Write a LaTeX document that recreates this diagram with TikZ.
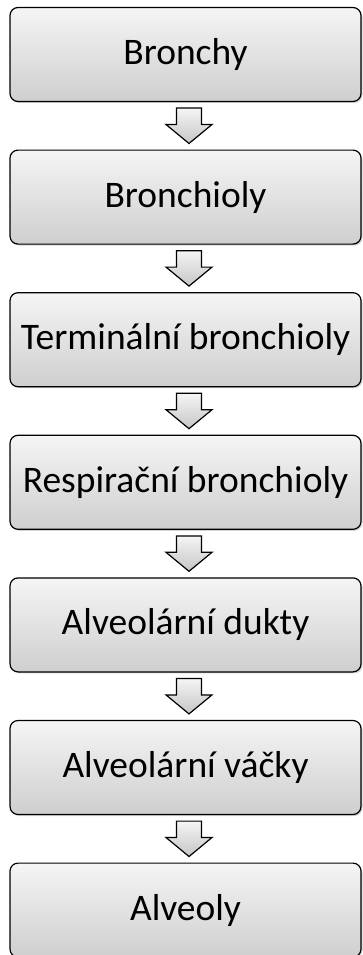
\documentclass[tikz,border=0pt]{standalone}
\usepackage{fontspec}
\setmainfont{Carlito}
\usetikzlibrary{calc,shadows}
\tikzset{
  stage/.style={draw=black, line width=1.2pt, rounded corners=8pt,
    top color=gray!8, bottom color=gray!38,
    minimum width=351pt, minimum height=94pt, inner sep=0pt,
    font=\fontsize{37.5}{42}\selectfont,
    drop shadow={shadow xshift=1.5pt, shadow yshift=-1.5pt, opacity=0.35}},
  blockarrow/.style={draw=black, line width=1.2pt, line join=miter,
    top color=gray!8, bottom color=gray!45}
}
\begin{document}
\begin{tikzpicture}[x=1pt, y=-1pt]
  \useasboundingbox (0,0) rectangle (362,955);
  \foreach \txt [count=\i from 0] in {Bronchy, Bronchioly,
      Terminální bronchioly, Respirační bronchioly,
      Alveolární dukty, Alveolární váčky, Alveoly}
    \node[stage] (b\i) at (185.5, 54.5+142.6*\i) {\txt};
  % hollow arrows between the stages
  \foreach \i [evaluate=\i as \j using int(\i+1)] in {0,...,5} {
    \coordinate (s) at ($(b\i.south)+(3.5,6)$);
    \coordinate (t) at ($(b\j.north)+(3.5,-6)$);
    \draw[blockarrow] ($(s)+(-12.5,0)$) -- ($(s)+(12.5,0)$)
      -- ($(t)+(12.5,-19)$) -- ($(t)+(23,-19)$) -- (t)
      -- ($(t)+(-23,-19)$) -- ($(t)+(-12.5,-19)$) -- cycle;
  }
\end{tikzpicture}
\end{document}
